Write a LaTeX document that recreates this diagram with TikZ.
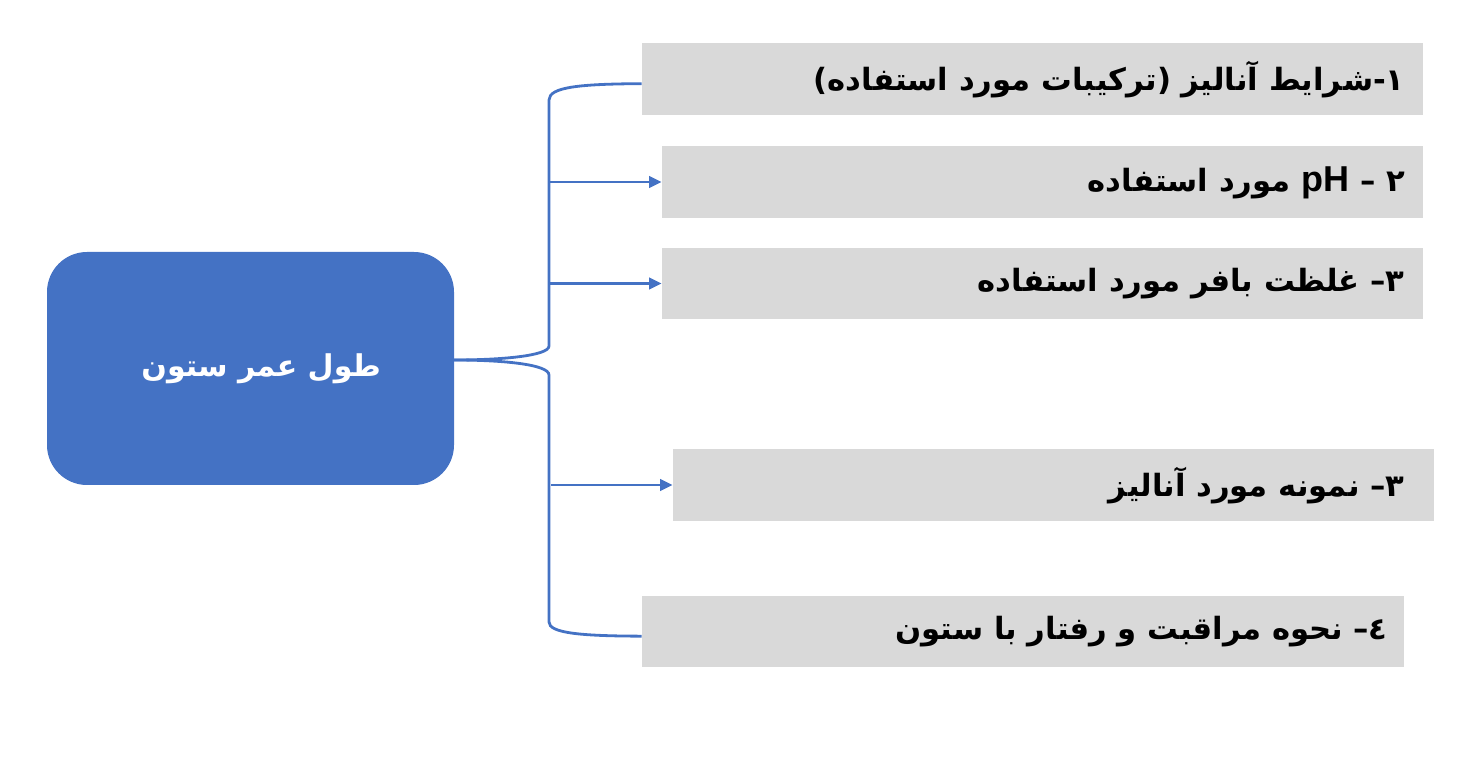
\documentclass[tikz,border=0pt]{standalone}
\usepackage{fontspec}
\usetikzlibrary{arrows.meta}
\TeXXeTstate=1
\newfontfamily\arabicfont[Script=Arabic]{DejaVu Sans}
\newfontfamily\latinbold{Liberation Sans}[BoldFont={Liberation Sans Bold}]
\definecolor{mainblue}{HTML}{4472C4}
\definecolor{boxgray}{HTML}{D9D9D9}
\tikzset{
  mainbox/.style={fill=mainblue, draw=none, rounded corners=30pt, minimum width=305.25pt, minimum height=174.75pt, text=white, font=\arabicfont\bfseries\fontsize{22.5}{26}\selectfont},
  itembox/.style={fill=boxgray, draw=none, minimum height=54pt, inner sep=0pt},
  itemtext/.style={anchor=east, inner sep=0pt, font=\arabicfont\bfseries\fontsize{23}{27}\selectfont},
  conn/.style={draw=mainblue, line width=2.1pt},
  arr/.style={conn, -{Triangle[length=9.5pt,width=8.5pt]}}
}
\begin{document}
\begin{tikzpicture}[x=0.75pt,y=-0.75pt]
\useasboundingbox (0,0) rectangle (1482,766);
\node[mainbox] (main) at (250.5,368.5) {\hspace*{16pt}\beginR طول عمر ستون\endR};
\node[itembox, minimum width=585.75pt] (b1) at (1032.5,79) {};
\node[itembox, minimum width=570.75pt] (b2) at (1042.5,182) {};
\node[itembox, minimum width=570.75pt, minimum height=53.25pt] (b3) at (1042.5,283.5) {};
\node[itembox, minimum width=570.75pt] (b4) at (1053.5,485) {};
\node[itembox, minimum width=571.5pt, minimum height=53.25pt] (b5) at (1023,631.5) {};
\node[itemtext] (t1) at (1405,80) {\beginR ۱-شرایط آنالیز (ترکیبات مورد استفاده)\endR};
\node[itemtext] (t2) at (1405,183) {\beginR ۲ – \beginL{\latinbold\bfseries\fontsize{27}{30}\selectfont pH}\endL{} مورد استفاده\endR};
\node[itemtext] (t3) at (1405,284) {\beginR ۳– غلظت بافر مورد استفاده\endR};
\node[itemtext] (t4) at (1405,486) {\beginR ۳– نمونه مورد آنالیز\endR};
\node[itemtext] (t5) at (1388,632) {\beginR ٤– نحوه مراقبت و رفتار با ستون\endR};
\coordinate (tip) at (454,360);
\coordinate (spine) at (549,100);
\draw[conn] ([yshift=-3.5pt]b1.west) .. controls (580,84) and (549,87) .. (549,100) -- (549,346) .. controls (549,356) and (500,360) .. (tip);
\draw[conn] (tip) .. controls (500,360) and (549,364) .. (549,375) -- (549,622) .. controls (549,633) and (580,636) .. ([yshift=-3.5pt]b5.west);
\draw[arr] (spine |- b2.west) -- (b2.west);
\draw[arr] (spine |- b3.west) -- (b3.west);
\draw[arr] ([xshift=1.5pt]spine |- b4.west) -- (b4.west);
\end{tikzpicture}
\end{document}
